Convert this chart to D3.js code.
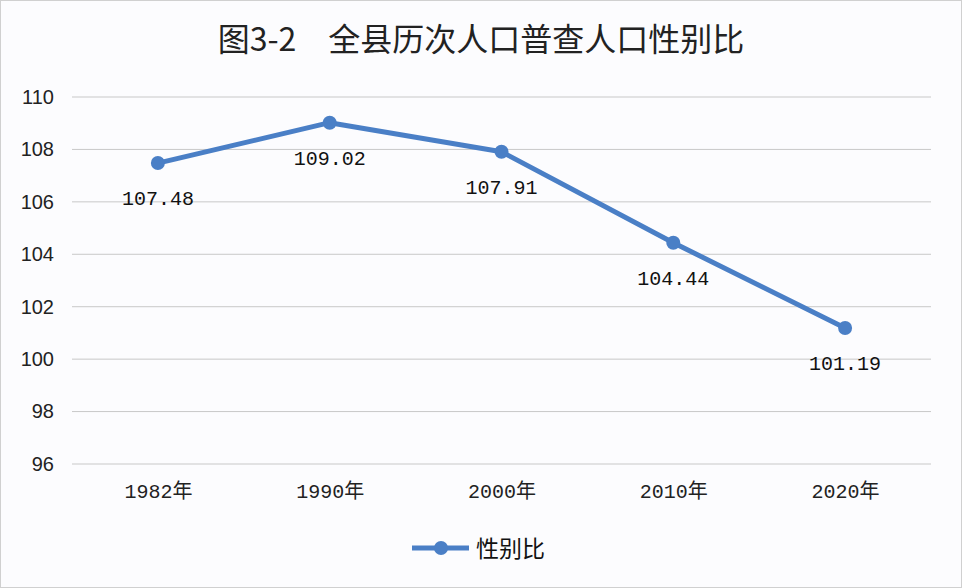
<!DOCTYPE html>
<html><head><meta charset="utf-8">
<script src="https://cdn.jsdelivr.net/npm/d3@7"></script>
<style>
html,body{margin:0;padding:0;background:#fff;}
svg{display:block;}
</style></head>
<body>
<svg id="chart" width="962" height="588"></svg>
<script>
const categories = ["1982年","1990年","2000年","2010年","2020年"];
const values = [107.48, 109.02, 107.91, 104.44, 101.19];
const yTicks = [96, 98, 100, 102, 104, 106, 108, 110];
const title = "图3-2　全县历次人口普查人口性别比";
const seriesName = "性别比";

const W = 962, H = 588;
const margin = {left: 72, right: 31, top: 97, bottom: 124};
const svg = d3.select("#chart");
const color = "#4a7fc6";

svg.append("rect").attr("x",0.5).attr("y",0.5).attr("width",W-1).attr("height",H-1)
  .attr("fill","#fcfcfe").attr("stroke","#d0d0d0");

const x = d3.scalePoint().domain(categories).range([margin.left, W-margin.right]).padding(0.5);
const y = d3.scaleLinear().domain([96,110]).range([H-margin.bottom, margin.top]);

// gridlines
svg.append("g").selectAll("line").data(yTicks).join("line")
  .attr("x1", margin.left).attr("x2", W-margin.right)
  .attr("y1", d=>y(d)).attr("y2", d=>y(d))
  .attr("stroke","#c8c8c8").attr("stroke-width",1);

// y axis labels
const yAxis = d3.axisLeft(y).tickValues(yTicks).tickSize(0).tickPadding(0);
const gy = svg.append("g").attr("transform",`translate(54,0)`).call(yAxis);
gy.select(".domain").remove();
gy.selectAll("text").attr("font-family","'Liberation Sans', Arial, sans-serif")
  .attr("font-size",20).attr("fill","#222");

// x axis labels
const xAxis = d3.axisBottom(x).tickSize(0).tickPadding(0);
const gx = svg.append("g").attr("transform",`translate(0,${y(96)+20})`).call(xAxis);
gx.select(".domain").remove();
gx.selectAll("text").attr("font-family","'Liberation Mono','Noto Sans CJK SC', monospace")
  .attr("font-size",20).attr("fill","#222");

// title
svg.append("text").attr("x",481).attr("y",51).attr("text-anchor","middle")
  .attr("font-family","'Noto Sans CJK SC', sans-serif").attr("font-size",32)
  .attr("fill","#222").text(title);

// line
const line = d3.line().x((d,i)=>x(categories[i])).y(d=>y(d));
svg.append("path").datum(values).attr("d",line).attr("fill","none")
  .attr("stroke",color).attr("stroke-width",5).attr("stroke-linejoin","round");
svg.append("g").selectAll("circle").data(values).join("circle")
  .attr("cx",(d,i)=>x(categories[i])).attr("cy",d=>y(d)).attr("r",7).attr("fill",color);

// data labels
svg.append("g").selectAll("text").data(values).join("text")
  .attr("x",(d,i)=>x(categories[i])).attr("y",d=>y(d)+42)
  .attr("text-anchor","middle")
  .attr("font-family","'Liberation Mono', 'DejaVu Sans Mono', monospace")
  .attr("font-size",20).attr("fill","#111")
  .text(d=>d.toFixed(2));

// legend
const lg = svg.append("g");
lg.append("line").attr("x1",412).attr("x2",469).attr("y1",548).attr("y2",548)
  .attr("stroke",color).attr("stroke-width",5);
lg.append("circle").attr("cx",441).attr("cy",548).attr("r",7).attr("fill",color);
lg.append("text").attr("x",476).attr("y",557)
  .attr("font-family","'Noto Sans CJK SC', sans-serif").attr("font-size",23)
  .attr("fill","#111").text(seriesName);
</script>
</body></html>
